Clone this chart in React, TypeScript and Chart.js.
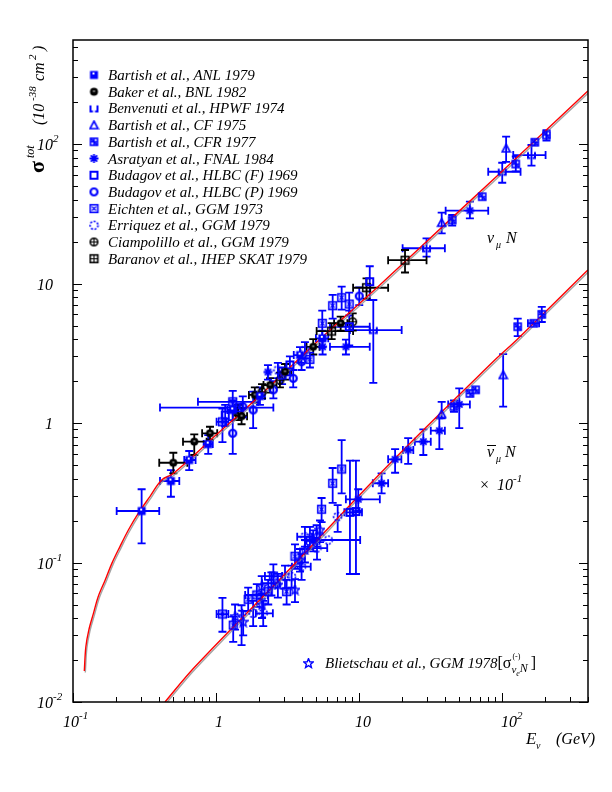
import React, { useEffect, useRef } from "react";
import { Chart, registerables } from "chart.js";
Chart.register(...registerables);

// [E, sigma, Elow, Ehigh, sigmaLow, sigmaHigh]
type Pt = [number, number, number | null, number | null, number | null, number | null];

const X_MIN = 0.1;
const X_MAX = 400;
const Y_MIN = 0.01;
const Y_MAX = 557;

const xTickValues = [0.1, 1, 10, 100];
const xTickBase = ["10", "1", "10", "10"];
const xTickSup = ["-1", "", "", "2"];
const yTickValues = [0.01, 0.1, 1, 10, 100];
const yTickBase = ["10", "10", "1", "10", "10"];
const yTickSup = ["-2", "-1", "", "", "2"];

// theory curves
const nuCurveE = [0.12, 0.123, 0.129, 0.139, 0.15, 0.168, 0.187, 0.213, 0.244, 0.286, 0.345, 0.417, 0.503, 1.0, 1.93, 4.79, 14.0, 50, 150, 399];
const nuCurveS = [0.0167, 0.0249, 0.0328, 0.0432, 0.0569, 0.075, 0.0986, 0.13, 0.171, 0.225, 0.297, 0.39, 0.435, 0.82, 1.5, 3.6, 9.76, 32.9, 93.6, 240];
const nubarCurveE = [0.44, 0.705, 3.0, 17.4, 91.8, 126.7, 399];
const nubarCurveS = [0.01, 0.0177, 0.0818, 0.543, 2.91, 3.94, 12.5];

const bartishANL: Pt[] = [
  [0.302, 0.234, 0.202, 0.401, 0.137, 0.335],
  [0.484, 0.384, 0.406, 0.554, 0.296, 0.46],
  [0.65, 0.543, 0.6, 0.72, 0.46, 0.63],
  [0.883, 0.706, 0.82, 0.95, 0.6, 0.82],
  [1.31, 1.24, 1.2, 1.42, 1.05, 1.45],
  [2.03, 1.56, 1.85, 2.2, 1.35, 1.8],
  [3.87, 3.07, 3.5, 4.2, 2.7, 3.5],
  [5.54, 4.05, 5.0, 6.1, 3.5, 4.6],
];
const bakerBNL: Pt[] = [
  [0.503, 0.519, 0.401, 0.63, 0.436, 0.612],
  [0.705, 0.735, 0.588, 0.86, 0.59, 0.83],
  [0.908, 0.844, 0.8, 1.02, 0.76, 0.94],
  [1.51, 1.12, 1.38, 1.65, 0.98, 1.28],
  [1.87, 1.59, 1.7, 2.05, 1.4, 1.8],
  [2.39, 1.87, 2.15, 2.65, 1.65, 2.1],
  [3.04, 2.33, 2.75, 3.35, 2.05, 2.65],
  [4.79, 3.52, 4.3, 5.3, 3.1, 4.0],
  [7.45, 5.19, 6.7, 8.3, 4.6, 5.8],
];
const benvenutiHPWF: Pt[] = [
  [12.6, 4.64, 8.65, 19.9, 1.94, 7.62],
  [29.7, 17.9, 20.2, 39.9, 15.6, 21.1],
  [100.5, 63.3, 80.2, 135, 52.8, 73.4],
  [161, 83.4, 120, 202, 70, 98.4],
];
const bartishCF: Pt[] = [
  [37.9, 27.3, null, null, 22.9, 32.2],
  [107, 93.1, null, null, 74.6, 113],
  [102, 2.21, null, null, 1.31, 3.12],
  [37.9, 1.16, null, null, 1.08, 1.42],
];
const bartishCFR: Pt[] = [
  [44.9, 28.5, null, null, 26, 31],
  [72.8, 41.9, null, null, null, null],
  [125, 71.9, null, null, 63.7, 81.4],
  [170, 103, null, null, null, null],
  [205, 116, null, null, 106, 126],
  [65.5, 1.73, null, null, null, null],
  [59.7, 1.63, null, null, null, null],
  [46.2, 1.31, null, null, 1.2, 1.45],
  [129, 4.9, null, null, 4.2, 5.6],
  [167, 5.19, 152, 182, null, null],
  [190, 6.01, null, null, 5.3, 6.8],
];
const asratyanFNAL: Pt[] = [
  [59.7, 33.3, 40.4, 80.2, 29.3, 38.6],
  [8.11, 3.52, 6.27, 11.9, 3.1, 3.96],
  [5.57, 3.52, null, null, 3.1, 4.0],
  [2.31, 2.32, null, null, 2.05, 2.6],
  [14.4, 0.37, 12.5, 16.0, 0.313, 0.436],
  [17.9, 0.549, 16.0, 19.8, 0.44, 0.65],
  [22.1, 0.64, 20.3, 24.0, 0.51, 0.78],
  [28.2, 0.735, 24.6, 31.8, 0.59, 0.9],
  [36.5, 0.881, 31.8, 39.9, 0.65, 1.08],
  [50.3, 1.36, 42.1, 59.7, 0.92, 1.77],
  [9.89, 0.284, 8.1, 14.0, 0.234, 0.335],
  [4.79, 0.143, 4.3, 5.3, 0.12, 0.17],
];
const budagovF: Pt[] = [
  [8.55, 4.9, 6.27, 11.9, 3.6, 6.4],
  [11.9, 10.3, null, null, 7.62, 13.3],
  [1.16, 1.14, null, null, 0.95, 1.35],
  [3.29, 2.61, null, null, 2.2, 3.0],
  [8.65, 0.229, 7.9, 10.5, 0.0827, 0.537],
  [9.53, 0.232, null, null, 0.0827, 0.537],
];
const budagovP: Pt[] = [
  [1.31, 0.844, null, null, 0.6, 1.3],
  [1.82, 1.24, null, null, 0.92, 1.68],
  [1.54, 1.31, null, null, 1.1, 1.55],
  [2.52, 1.73, null, null, 1.5, 2.0],
  [3.47, 2.09, null, null, 1.8, 2.4],
  [3.97, 2.75, null, null, 2.4, 3.1],
  [10.05, 8.13, null, null, 7.0, 9.4],
];
const eichtenGGM: Pt[] = [
  [1.11, 1.02, 1.01, 1.22, 0.73, 1.27],
  [1.31, 1.42, 0.748, 1.97, 1.2, 1.7],
  [1.45, 1.29, 0.406, 2.52, null, null],
  [4.54, 2.86, null, null, 2.5, 3.2],
  [5.54, 5.19, null, null, 3.9, 6.4],
  [7.57, 7.91, null, null, 6.5, 9.5],
  [6.55, 6.93, null, null, 5.6, 8.3],
  [8.55, 7.13, null, null, 5.9, 8.6],
  [2.9, 2.21, null, null, 1.9, 2.5],
  [7.57, 0.468, null, null, 0.313, 0.755],
  [6.55, 0.37, null, null, 0.268, 0.476],
  [5.48, 0.241, null, null, 0.195, 0.29],
  [3.57, 0.111, null, null, 0.09, 0.135],
  [2.52, 0.08, 2.2, 2.9, 0.066, 0.097],
  [3.12, 0.0618, null, null, 0.05, 0.075],
  [1.93, 0.0585, 1.6, 2.3, 0.048, 0.07],
  [1.68, 0.0545, null, null, 0.045, 0.066],
  [1.11, 0.0427, 1.01, 1.22, 0.0319, 0.0557],
  [1.32, 0.0356, null, null, 0.027, 0.0409],
  [2.32, 0.0618, null, null, 0.05, 0.075],
];
const erriquezGGM: Pt[] = [
  [2.71, 2.4, null, null, 2.1, 2.7],
  [4.19, 3.34, null, null, 2.9, 3.8],
  [7.1, 0.213, null, null, 0.166, 0.258],
  [6.1, 0.145, 4.19, 10.2, null, null],
  [3.97, 0.0933, 3.4, 4.6, 0.075, 0.115],
  [3.04, 0.0791, null, null, 0.065, 0.095],
  [2.14, 0.0432, 1.9, 2.5, 0.035, 0.053],
  [1.82, 0.0432, null, null, 0.035, 0.053],
  [1.51, 0.0432, null, null, 0.0256, 0.0494],
  [4.54, 0.152, null, null, 0.125, 0.18],
  [5.09, 0.127, 4.4, 6.0, 0.105, 0.15],
  [4.19, 0.153, 3.7, 4.7, 0.13, 0.18],
  [3.38, 0.0791, null, null, 0.066, 0.095],
  [2.44, 0.071, 2.1, 2.8, 0.058, 0.085],
];
const ciampolilloGGM: Pt[] = [
  [9.04, 5.32, null, null, 4.6, 6.1],
  [2.8, 2.03, null, null, 1.8, 2.3],
  [2.1, 1.67, null, null, 1.5, 1.9],
];
const baranovIHEP: Pt[] = [
  [21.0, 14.7, 16.0, 29.7, 12.0, 17.4],
  [11.3, 9.33, 9.1, 16.0, 7.8, 10.9],
  [6.44, 4.56, 5.06, 9.1, 4.0, 5.2],
  [1.43, 1.2, null, null, 1.05, 1.35],
];
const blietschauGGM: Pt[] = [
  [2.1, 0.0496, null, null, 0.04, 0.06],
  [2.71, 0.069, null, null, 0.056, 0.083],
  [3.87, 0.104, null, null, 0.086, 0.125],
  [5.34, 0.171, null, null, 0.14, 0.2],
  [1.55, 0.0374, null, null, 0.03, 0.045],
  [5.06, 0.155, null, null, 0.13, 0.185],
  [4.19, 0.123, null, null, 0.1, 0.145],
  [3.57, 0.0635, null, null, 0.052, 0.076],
  [1.36, 0.0409, null, null, 0.033, 0.05],
  [2.09, 0.0671, null, null, 0.055, 0.08],
];

const legendLabels = [
  "Bartish et al., ANL 1979",
  "Baker et al., BNL 1982",
  "Benvenuti et al., HPWF 1974",
  "Bartish et al., CF 1975",
  "Bartish et al., CFR 1977",
  "Asratyan et al., FNAL 1984",
  "Budagov et al., HLBC (F) 1969",
  "Budagov et al., HLBC (P) 1969",
  "Eichten et al., GGM 1973",
  "Erriquez et al., GGM 1979",
  "Ciampolillo et al., GGM 1979",
  "Baranov et al., IHEP SKAT 1979",
];
const blietschauLabel = "Blietschau et al., GGM 1978";

const BLUE = "#0000ff";
const BLACK = "#000000";
const FONT = '"Liberation Serif", "DejaVu Serif", serif';
const it = (s: number) => `italic ${s}px ${FONT}`;
const rm = (s: number) => `${s}px ${FONT}`;

function makeMarker(kind: string, color: string): HTMLCanvasElement {
  const c = document.createElement("canvas");
  c.width = 11;
  c.height = 11;
  const g = c.getContext("2d")!;
  g.translate(5.5, 5.5);
  g.strokeStyle = color;
  g.fillStyle = color;
  g.lineWidth = 1.6;
  const box = (s: number) => g.strokeRect(-s, -s, 2 * s, 2 * s);
  switch (kind) {
    case "fsquare":
      g.fillRect(-4, -4, 8, 8);
      g.fillStyle = "#fff";
      g.fillRect(-1.5, -2.5, 2, 2);
      break;
    case "fcircle":
      g.beginPath();
      g.arc(0, 0, 4, 0, Math.PI * 2);
      g.fill();
      g.fillStyle = "#fff";
      g.fillRect(-1, -1, 2, 1);
      break;
    case "cup":
      g.lineWidth = 2;
      g.beginPath();
      g.moveTo(-3.5, -3);
      g.lineTo(-3.5, 3);
      g.lineTo(-1, 3);
      g.moveTo(3.5, -3);
      g.lineTo(3.5, 3);
      g.lineTo(1, 3);
      g.stroke();
      break;
    case "otri":
      g.beginPath();
      g.moveTo(0, -4);
      g.lineTo(4, 3.5);
      g.lineTo(-4, 3.5);
      g.closePath();
      g.stroke();
      break;
    case "cfr":
      box(3.5);
      g.beginPath();
      g.moveTo(-3.5, -3.5);
      g.lineTo(3.5, 3.5);
      g.moveTo(0, -3.5);
      g.lineTo(0, 3.5);
      g.moveTo(-3.5, 0);
      g.lineTo(3.5, 0);
      g.stroke();
      break;
    case "aster":
      g.lineWidth = 1.8;
      g.beginPath();
      for (let k = 0; k < 4; k++) {
        const a = (k * Math.PI) / 4;
        g.moveTo(-4.5 * Math.cos(a), -4.5 * Math.sin(a));
        g.lineTo(4.5 * Math.cos(a), 4.5 * Math.sin(a));
      }
      g.stroke();
      g.beginPath();
      g.arc(0, 0, 2, 0, Math.PI * 2);
      g.fill();
      break;
    case "osquare":
      g.lineWidth = 2;
      box(3.5);
      break;
    case "ocircle":
      g.lineWidth = 2.2;
      g.beginPath();
      g.arc(0, 0, 3.5, 0, Math.PI * 2);
      g.stroke();
      break;
    case "xsquare":
      box(3.8);
      g.lineWidth = 1.2;
      g.beginPath();
      g.moveTo(-2, -2);
      g.lineTo(2, 2);
      g.moveTo(2, -2);
      g.lineTo(-2, 2);
      g.stroke();
      break;
    case "dcircle":
      g.setLineDash([2, 1.6]);
      g.beginPath();
      g.arc(0, 0, 4, 0, Math.PI * 2);
      g.stroke();
      break;
    case "ccircle":
      g.beginPath();
      g.arc(0, 0, 3.8, 0, Math.PI * 2);
      g.stroke();
      g.lineWidth = 1.2;
      g.beginPath();
      g.moveTo(-3.5, 0);
      g.lineTo(3.5, 0);
      g.moveTo(0, -3.5);
      g.lineTo(0, 3.5);
      g.stroke();
      break;
    case "psquare":
      box(3.8);
      g.lineWidth = 1.2;
      g.beginPath();
      g.moveTo(-3.8, 0);
      g.lineTo(3.8, 0);
      g.moveTo(0, -3.8);
      g.lineTo(0, 3.8);
      g.stroke();
      break;
    case "ostar":
      g.lineWidth = 1.4;
      g.beginPath();
      for (let k = 0; k < 10; k++) {
        const r = k % 2 === 0 ? 5 : 2.2;
        const a = -Math.PI / 2 + (k * Math.PI) / 5;
        const px = r * Math.cos(a);
        const py = r * Math.sin(a);
        if (k === 0) g.moveTo(px, py);
        else g.lineTo(px, py);
      }
      g.closePath();
      g.stroke();
      break;
  }
  return c;
}

function rich(ctx: CanvasRenderingContext2D, x: number, y: number, parts: [string, string, number][]) {
  let cx = x;
  for (const [t, f, dy] of parts) {
    ctx.font = f;
    ctx.fillText(t, cx, y + dy);
    cx += ctx.measureText(t).width;
  }
  return cx;
}

export default function App() {
  const ref = useRef<HTMLCanvasElement | null>(null);

  useEffect(() => {
    const canvas = ref.current;
    if (!canvas) return;

    const series = [
      { label: legendLabels[0], color: BLUE, kind: "fsquare", pts: bartishANL },
      { label: legendLabels[1], color: BLACK, kind: "fcircle", pts: bakerBNL },
      { label: legendLabels[2], color: BLUE, kind: "cup", pts: benvenutiHPWF },
      { label: legendLabels[3], color: BLUE, kind: "otri", pts: bartishCF },
      { label: legendLabels[4], color: BLUE, kind: "cfr", pts: bartishCFR },
      { label: legendLabels[5], color: BLUE, kind: "aster", pts: asratyanFNAL },
      { label: legendLabels[6], color: BLUE, kind: "osquare", pts: budagovF },
      { label: legendLabels[7], color: BLUE, kind: "ocircle", pts: budagovP },
      { label: legendLabels[8], color: BLUE, kind: "xsquare", pts: eichtenGGM },
      { label: legendLabels[9], color: BLUE, kind: "dcircle", pts: erriquezGGM },
      { label: legendLabels[10], color: BLACK, kind: "ccircle", pts: ciampolilloGGM },
      { label: legendLabels[11], color: BLACK, kind: "psquare", pts: baranovIHEP },
      { label: blietschauLabel, color: BLUE, kind: "ostar", pts: blietschauGGM },
    ].map((s) => ({ ...s, marker: makeMarker(s.kind, s.color) }));

    const datasets: any[] = [
      {
        type: "line",
        data: nuCurveE.map((e, i) => ({ x: e, y: nuCurveS[i] })),
        borderColor: "#ff0000",
        borderWidth: 1.4,
        pointRadius: 0,
        tension: 0.35,
        isCurve: true,
        order: 20,
      },
      {
        type: "line",
        data: nubarCurveE.map((e, i) => ({ x: e, y: nubarCurveS[i] })),
        borderColor: "#ff0000",
        borderWidth: 1.4,
        pointRadius: 0,
        tension: 0.35,
        isCurve: true,
        order: 20,
      },
      ...series.map((s) => ({
        type: "scatter",
        label: s.label,
        data: s.pts.map((p) => ({ x: p[0], y: p[1] })),
        errs: s.pts,
        borderColor: s.color,
        backgroundColor: s.color,
        pointStyle: s.marker,
        pointRadius: 5,
        order: 1,
      })),
    ];

    const errorBars = {
      id: "errorBars",
      beforeDatasetsDraw(chart: any) {
        const ctx = chart.ctx as CanvasRenderingContext2D;
        const xs = chart.scales.x;
        const ys = chart.scales.y;
        const a = chart.chartArea;
        ctx.save();
        ctx.beginPath();
        ctx.rect(a.left, a.top, a.right - a.left, a.bottom - a.top);
        ctx.clip();
        ctx.lineWidth = 1.8;
        const cap = 4;
        chart.data.datasets.forEach((ds: any) => {
          if (!ds.errs) return;
          ctx.strokeStyle = ds.borderColor;
          ds.errs.forEach((p: Pt) => {
            const px = xs.getPixelForValue(p[0]);
            const py = ys.getPixelForValue(p[1]);
            ctx.beginPath();
            if (p[2] != null && p[3] != null) {
              const l = xs.getPixelForValue(p[2]);
              const r = xs.getPixelForValue(p[3]);
              ctx.moveTo(l, py);
              ctx.lineTo(r, py);
              ctx.moveTo(l, py - cap);
              ctx.lineTo(l, py + cap);
              ctx.moveTo(r, py - cap);
              ctx.lineTo(r, py + cap);
            }
            if (p[4] != null && p[5] != null) {
              const b = ys.getPixelForValue(p[4]);
              const t = ys.getPixelForValue(p[5]);
              ctx.moveTo(px, b);
              ctx.lineTo(px, t);
              ctx.moveTo(px - cap, b);
              ctx.lineTo(px + cap, b);
              ctx.moveTo(px - cap, t);
              ctx.lineTo(px + cap, t);
            }
            ctx.stroke();
          });
        });
        ctx.restore();
      },
      beforeDatasetDraw(chart: any, args: any) {
        const ds = chart.data.datasets[args.index];
        if (ds.isCurve) {
          const ctx = chart.ctx;
          ctx.save();
          ctx.shadowColor = "rgba(140,140,140,0.8)";
          ctx.shadowOffsetX = 1;
          ctx.shadowOffsetY = 1.5;
        }
      },
      afterDatasetDraw(chart: any, args: any) {
        const ds = chart.data.datasets[args.index];
        if (ds.isCurve) chart.ctx.restore();
      },
    };

    const decorations = {
      id: "decorations",
      afterDraw(chart: any) {
        const ctx = chart.ctx as CanvasRenderingContext2D;
        const xs = chart.scales.x;
        const ys = chart.scales.y;
        const a = chart.chartArea;
        ctx.save();
        ctx.fillStyle = "#000";
        ctx.strokeStyle = "#000";
        ctx.lineWidth = 1.5;
        ctx.strokeRect(a.left, a.top, a.right - a.left, a.bottom - a.top);
        ctx.lineWidth = 1;
        ctx.beginPath();
        for (let d = -2; d <= 2; d++) {
          for (let m = 1; m <= 9; m++) {
            const v = m * Math.pow(10, d);
            if (v < Y_MIN || v > Y_MAX) continue;
            const py = Math.round(ys.getPixelForValue(v)) + 0.5;
            const len = m === 1 ? 9 : 5;
            ctx.moveTo(a.left, py);
            ctx.lineTo(a.left + len, py);
            ctx.moveTo(a.right, py);
            ctx.lineTo(a.right - len, py);
          }
        }
        for (let d = -1; d <= 2; d++) {
          for (let m = 1; m <= 9; m++) {
            const v = m * Math.pow(10, d);
            if (v < X_MIN || v > X_MAX) continue;
            const px = Math.round(xs.getPixelForValue(v)) + 0.5;
            const len = m === 1 ? 9 : 5;
            ctx.moveTo(px, a.bottom);
            ctx.lineTo(px, a.bottom - len);
          }
        }
        ctx.stroke();

        ctx.textBaseline = "alphabetic";
        yTickValues.forEach((v, i) => {
          const py = ys.getPixelForValue(v);
          const parts: [string, string, number][] = [[yTickBase[i], it(16), 0]];
          if (yTickSup[i]) parts.push([yTickSup[i], it(11), -8]);
          const x0 = yTickBase[i] === "1" ? 45 : 37;
          rich(ctx, x0, py + 6, parts);
        });
        const xOff = [-10, -1, -4, -1];
        xTickValues.forEach((v, i) => {
          const px = xs.getPixelForValue(v);
          const parts: [string, string, number][] = [[xTickBase[i], it(16), 0]];
          if (xTickSup[i]) parts.push([xTickSup[i], it(11), -8]);
          rich(ctx, px + xOff[i], a.bottom + 25, parts);
        });

        rich(ctx, 526, 744, [["E", it(17), 0]]);
        rich(ctx, 536, 749, [["ν", it(10), 0]]);
        rich(ctx, 556, 744, [["(GeV)", it(16), 0]]);

        ctx.save();
        ctx.translate(44, 173);
        ctx.rotate(-Math.PI / 2);
        rich(ctx, 0, 0, [["σ", `bold 22px ${FONT}`, 0]]);
        rich(ctx, 15, 0, [["tot", it(12), -10]]);
        rich(ctx, 48, 0, [["(10", it(16), 0]]);
        rich(ctx, 72, 0, [["-38", it(11), -8]]);
        rich(ctx, 92, 0, [["cm", it(16), 0]]);
        rich(ctx, 113, 0, [["2", it(11), -8]]);
        rich(ctx, 122, 0, [[")", it(16), 0]]);
        ctx.restore();

        series.slice(0, 12).forEach((s, i) => {
          const y = 75 + i * 16.7;
          ctx.drawImage(s.marker, 94 - 5.5, y - 5.5);
          ctx.fillStyle = "#000";
          rich(ctx, 108, y + 5, [[s.label, it(15), 0]]);
        });

        const bl = series[12];
        ctx.drawImage(bl.marker, 308.5 - 5.5, 663.5 - 5.5);
        let cx = rich(ctx, 325, 668, [[blietschauLabel, it(15), 0], ["[", rm(16), 0], ["σ", rm(16), 0]]);
        rich(ctx, cx + 1, 659, [["(-)", rm(8), 0]]);
        cx = rich(ctx, cx, 673, [["ν", it(11), 0]]);
        cx = rich(ctx, cx, 676, [["e", it(8), 0]]);
        cx = rich(ctx, cx, 672, [["N", it(12), 0]]);
        rich(ctx, cx + 3, 668, [["]", rm(16), 0]]);

        rich(ctx, 487, 243, [["ν", it(16), 0]]);
        rich(ctx, 496, 248, [["μ", it(10), 0]]);
        rich(ctx, 506, 243, [["N", it(16), 0]]);

        rich(ctx, 487, 457, [["ν", it(16), 0]]);
        ctx.lineWidth = 1;
        ctx.beginPath();
        ctx.moveTo(487, 445.5);
        ctx.lineTo(496, 445.5);
        ctx.stroke();
        rich(ctx, 496, 462, [["μ", it(10), 0]]);
        rich(ctx, 505, 457, [["N", it(16), 0]]);

        rich(ctx, 480, 490, [["×", rm(16), 0]]);
        rich(ctx, 497, 490, [["10", it(16), 0], ["-1", it(11), -8]]);

        ctx.restore();
      },
    };

    const chart = new Chart(canvas, {
      type: "scatter",
      data: { datasets },
      options: {
        animation: false,
        responsive: false,
        maintainAspectRatio: false,
        layout: { padding: { left: 73, right: 24, top: 40, bottom: 90 } },
        plugins: { legend: { display: false }, tooltip: { enabled: false } },
        scales: {
          x: { type: "logarithmic", min: X_MIN, max: X_MAX, display: false },
          y: { type: "logarithmic", min: Y_MIN, max: Y_MAX, display: false },
        },
      },
      plugins: [errorBars, decorations],
    } as any);

    return () => chart.destroy();
  }, []);

  return (
    <div style={{ position: "absolute", left: 0, top: 0, width: 612, height: 792, background: "#fff" }}>
      <canvas ref={ref} width={612} height={792} style={{ width: 612, height: 792, display: "block" }} />
    </div>
  );
}
